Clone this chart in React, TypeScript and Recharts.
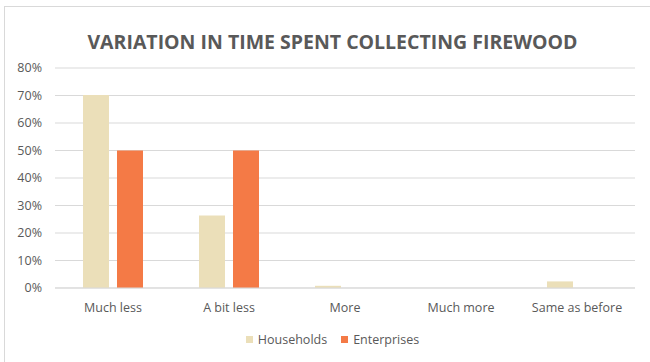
import React from 'react';
import { BarChart, Bar, XAxis, YAxis, CartesianGrid, Legend } from 'recharts';

const categories = ['Much less', 'A bit less', 'More', 'Much more', 'Same as before'];
const households = [70.2, 26.4, 0.8, 0, 2.4];
const enterprises = [50, 50, 0, 0, 0];
const yTicks = [0, 10, 20, 30, 40, 50, 60, 70, 80];
const seriesNames = ['Households', 'Enterprises'];
const seriesColors = ['#EBDFB9', '#F47A46'];

const data = categories.map((c, i) => ({
  name: c,
  households: households[i],
  enterprises: enterprises[i],
}));

const FONT = '"Open Sans", "Noto Sans", sans-serif';

const LegendContent = () => (
  <div style={{ display: 'flex', justifyContent: 'center', fontFamily: FONT, fontSize: 12.5, color: '#595959' }}>
    {seriesNames.map((n, i) => (
      <div key={n} style={{ display: 'flex', alignItems: 'center', marginRight: i === 0 ? 14 : 0 }}>
        <span style={{ display: 'inline-block', width: 7, height: 7, background: seriesColors[i], marginRight: 5 }} />
        <span>{n}</span>
      </div>
    ))}
  </div>
);

export default function App() {
  return (
    <div style={{ position: 'absolute', left: 0, top: 0, width: 650, height: 362, background: '#fff', overflow: 'hidden' }}>
      <div style={{ position: 'absolute', left: 4, top: 6, width: 660, height: 370, border: '1px solid #D9D9D9', boxSizing: 'border-box' }} />
      <div style={{ position: 'absolute', left: 0, top: 28, width: 665, textAlign: 'center', fontFamily: FONT, fontWeight: 700, fontSize: 19.5, color: '#595959' }}>
        VARIATION IN TIME SPENT COLLECTING FIREWOOD
      </div>
      <BarChart
        width={650}
        height={362}
        data={data}
        margin={{ top: 68, right: 15, left: 0, bottom: 0 }}
        barGap={8}
        barCategoryGap={28}
        style={{ position: 'absolute', left: 0, top: 0 }}
      >
        <CartesianGrid vertical={false} stroke="#D9D9D9" />
        <XAxis
          dataKey="name"
          axisLine={{ stroke: '#D9D9D9' }}
          tickLine={false}
          height={57}
          tick={{ fill: '#595959', fontSize: 12.5, fontFamily: FONT }}
          tickMargin={9}
          interval={0}
        />
        <YAxis
          width={55}
          domain={[0, 80]}
          ticks={yTicks}
          axisLine={false}
          tickLine={false}
          tickFormatter={(v) => `${v}%`}
          tick={{ fill: '#595959', fontSize: 12.5, fontFamily: FONT }}
          tickMargin={7}
        />
        <Legend
          verticalAlign="bottom"
          content={<LegendContent />}
          wrapperStyle={{ top: 331, bottom: 'auto', left: 0, width: 665 }}
        />
        <Bar dataKey="households" name={seriesNames[0]} fill={seriesColors[0]} isAnimationActive={false} />
        <Bar dataKey="enterprises" name={seriesNames[1]} fill={seriesColors[1]} isAnimationActive={false} />
      </BarChart>
    </div>
  );
}
